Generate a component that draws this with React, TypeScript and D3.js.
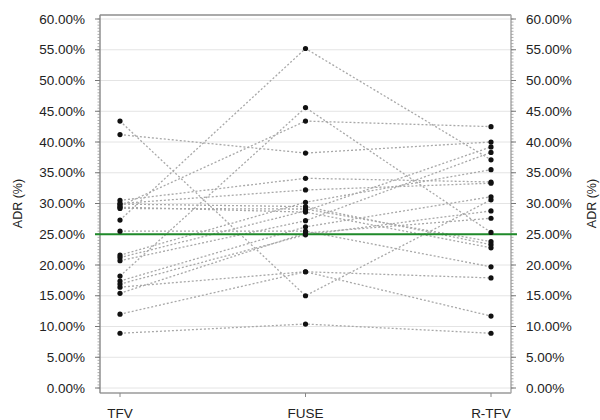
import React from 'react'
import * as d3 from 'd3'

// visit groups and per-patient ADR values (fraction)
const categories = ['TFV', 'FUSE', 'R-TFV']
const tfv = [0.434, 0.412, 0.296, 0.273, 0.182, 0.089, 0.12, 0.164, 0.305, 0.3, 0.292, 0.255, 0.216, 0.212, 0.207, 0.174, 0.169, 0.154, 0.299, 0.294]
const fuse = [0.15, 0.382, 0.434, 0.552, 0.456, 0.104, 0.189, 0.189, 0.341, 0.322, 0.291, 0.255, 0.302, 0.288, 0.272, 0.262, 0.249, 0.252, 0.295, 0.286]
const rtfv = [0.306, 0.4, 0.425, 0.371, 0.253, 0.089, 0.117, 0.179, 0.335, 0.333, 0.238, 0.197, 0.355, 0.392, 0.383, 0.311, 0.288, 0.276, 0.233, 0.228]
const yTicks = d3.range(0, 0.6001, 0.05)
const minorTicks = d3.range(0, 0.6001, 0.005)
const threshold = 0.25

const W = 600
const H = 420
const left = 100
const right = 511
const top = 15
const bottom = 393

export default function App() {
  const x = d3.scalePoint<string>().domain(categories).range([120, 491])
  const y = d3.scaleLinear().domain([0, 0.6]).range([388, 19])
  const fmt = d3.format('.2%')
  const line = d3.line<[string, number]>().x(d => x(d[0])!).y(d => y(d[1]))

  const patients = tfv.map((v, i) => [
    [categories[0], v],
    [categories[1], fuse[i]],
    [categories[2], rtfv[i]],
  ] as [string, number][])

  const font = 'Arial, "Liberation Sans", sans-serif'

  return (
    <svg width={W} height={H} style={{ position: 'absolute', left: 0, top: 0, background: '#fff' }}
      fontFamily={font}>
      {/* grid */}
      {yTicks.map(t => (
        <line key={'g' + t} x1={left} x2={right} y1={y(t)} y2={y(t)} stroke="#e4e4e4" strokeWidth={1} />
      ))}
      {/* frame */}
      <rect x={left} y={top} width={right - left} height={bottom - top} fill="none" stroke="#bdbdbd" strokeWidth={1} />
      <line x1={left} x2={right} y1={top} y2={top} stroke="#999" strokeWidth={1.5} />
      <line x1={left} x2={right} y1={bottom} y2={bottom} stroke="#888" strokeWidth={1.2} />
      <line x1={left} x2={left} y1={top} y2={bottom} stroke="#888" strokeWidth={1.2} />
      <line x1={right} x2={right} y1={top} y2={bottom} stroke="#aaa" strokeWidth={1.2} />

      {/* left and right axes ticks */}
      {minorTicks.map((t, i) => (
        <g key={'m' + i} stroke="#999" strokeWidth={0.8}>
          <line x1={left - 2.5} x2={left} y1={y(t)} y2={y(t)} />
          <line x1={right} x2={right + 2.5} y1={y(t)} y2={y(t)} />
        </g>
      ))}
      {yTicks.map(t => (
        <g key={'t' + t}>
          <line x1={left - 5} x2={left} y1={y(t)} y2={y(t)} stroke="#777" />
          <line x1={right} x2={right + 5} y1={y(t)} y2={y(t)} stroke="#777" />
          <text x={85} y={y(t)} dy="0.35em" textAnchor="end" fontSize={13.5} fill="#222">{fmt(t)}</text>
          <text x={526} y={y(t)} dy="0.35em" textAnchor="start" fontSize={13.5} fill="#222">{fmt(t)}</text>
        </g>
      ))}

      {/* x axis */}
      {categories.map(c => (
        <g key={c}>
          <line x1={x(c)} x2={x(c)} y1={bottom} y2={bottom + 4} stroke="#888" />
          <text x={x(c)} y={418} textAnchor="middle" fontSize={13.5} fill="#222">{c}</text>
        </g>
      ))}

      {/* axis titles */}
      <text transform={`translate(22,${y(0.3)}) rotate(-90)`} textAnchor="middle" fontSize={12.5} fill="#222">ADR (%)</text>
      <text transform={`translate(596,${y(0.3)}) rotate(-90)`} textAnchor="middle" fontSize={12.5} fill="#222">ADR (%)</text>

      {/* patient lines */}
      {patients.map((p, i) => (
        <path key={'l' + i} d={line(p)!} fill="none" stroke="#a8a8a8" strokeWidth={1.3} strokeDasharray="2,2" />
      ))}

      {/* 25% reference */}
      <line x1={95} x2={517} y1={y(threshold)} y2={y(threshold)} stroke="#1f8a2a" strokeWidth={2} />

      {/* points */}
      {patients.map((p, i) => p.map(d => (
        <circle key={'c' + i + d[0]} cx={x(d[0])} cy={y(d[1])} r={2.6} fill="#111" />
      )))}
    </svg>
  )
}
